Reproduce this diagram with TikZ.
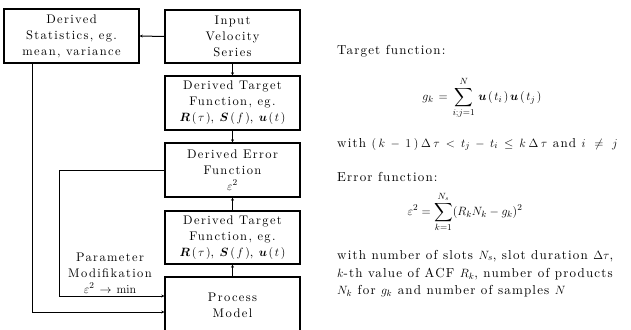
\documentclass[tikz,border=0pt]{standalone}
\usepackage{amsmath,amssymb,bm}
\usepackage[no-math]{fontspec}
\newfontfamily\boxfont{lmroman10-regular.otf}[LetterSpace=11]
\newfontfamily\rtfont{lmroman10-regular.otf}[LetterSpace=9]
\usetikzlibrary{arrows.meta}
\newcommand{\sk}{\mkern2.5mu}
\newcommand{\skk}{\mkern4mu}
\begin{document}
\begin{tikzpicture}[x=1pt,y=-1pt,
  bfont/.style={font=\fontsize{12.5}{16}\boxfont},
  blk/.style={bfont, draw, line width=1.4pt, minimum width=135pt, inner sep=0pt, align=center},
  conn/.style={line width=1pt, -{Stealth[length=3pt,width=3pt]}},
  txt/.style={font=\fontsize{13}{16}\rtfont, anchor=base west, inner sep=0pt},
  eqn/.style={font=\fontsize{13}{16}\rtfont, inner sep=0pt}]
\useasboundingbox (0,0) rectangle (631,329);
\begin{scope}
\clip (0,0) rectangle (631,329);
\node[blk, minimum height=54pt] (stats) at (71.5,36) {Derived\\Statistics, eg.\\mean, variance};
\node[blk, minimum height=53pt] (inp) at (232.5,36.5) {Input\\Velocity\\Series};
\node[blk, minimum height=54pt] (tf1) at (232.5,103) {Derived Target\\Function, eg.\\$\bm{R}\sk(\sk\tau\sk)$, $\bm{S}\sk(\sk f\sk)$, $\bm{u}\sk(\sk t\sk)$};
\node[blk, minimum height=54pt] (err) at (232.5,170) {Derived Error\\Function\\$\varepsilon^2$};
\node[blk, minimum height=53pt] (tf2) at (232.5,237.5) {Derived Target\\Function, eg.\\$\bm{R}\sk(\sk\tau\sk)$, $\bm{S}\sk(\sk f\sk)$, $\bm{u}\sk(\sk t\sk)$};
\node[blk, minimum height=56pt] (pm) at (232.5,305) {Process\\Model};
\end{scope}

\draw[conn] (inp.west) -- (stats.east);
\draw[conn] (inp.south) -- (tf1.north);
\draw[conn] (tf1.south) -- (err.north);
\draw[conn] (tf2.north) -- (err.south);
\draw[conn] (pm.north) -- (tf2.south);
\coordinate (c1) at (59,170);
\draw[conn] (err.west) -- (c1) |- ([yshift=9pt]pm.west);
\draw[conn] ([xshift=-39.5pt]stats.south) |- ([yshift=-7pt]pm.west);
\node[bfont, align=center, inner sep=0pt] (lbl) at (110,273) {Parameter\\Modifikation\\$\varepsilon^2\sk\rightarrow\sk \min$};

\node[txt] (t1) at (337,55) {Target function:};
\node[eqn] (eq1) at (482,98) {$\displaystyle g_k\sk=\sk\sum_{i;j=1}^{N}\sk\bm{u}\sk(\sk t_i\sk)\sk\bm{u}\sk(\sk t_j\sk)$};
\node[txt] (t2) at (337,147) {with $(\skk k\skk-\skk1\skk)\skk\Delta\skk\tau\skk<\skk t_j\skk-\skk t_i\skk\le\skk k\skk\Delta\skk\tau$ and $i\mkern8mu\ne\mkern8mu j$};
\node[txt] (t3) at (337,181) {Error function:};
\node[eqn] (eq2) at (465,212) {$\displaystyle \varepsilon^2=\sum_{k=1}^{N_s}(R_kN_k-g_k)^2$};
\node[txt] (t4) at (337,259) {with number of slots $N_s$, slot duration $\Delta\tau$,};
\node[txt] (t5) at (337,277) {$k$-th value of ACF $R_k$, number of products};
\node[txt] (t6) at (337,294) {$N_k$ for $g_k$ and number of samples $N$};
\end{tikzpicture}
\end{document}
